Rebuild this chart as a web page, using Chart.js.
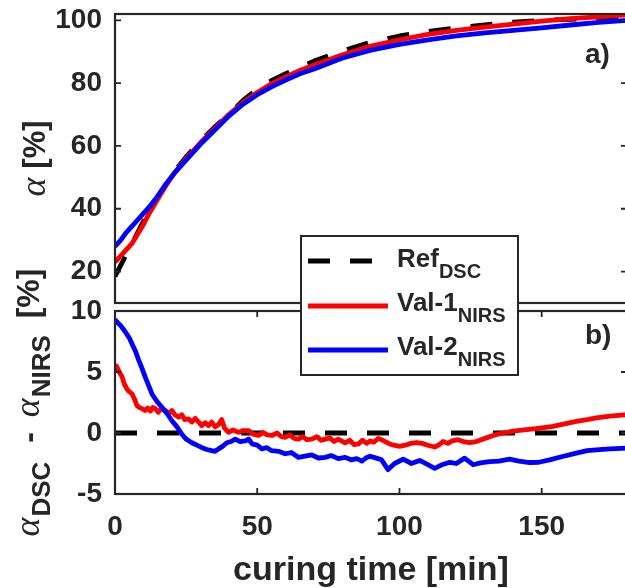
<!DOCTYPE html>
<html>
<head>
<meta charset="utf-8">
<script src="https://cdn.jsdelivr.net/npm/chart.js@4.4.1/dist/chart.umd.min.js"></script>
<style>
html,body{margin:0;padding:0;background:#fff;overflow:hidden;width:625px;height:588px}
#wrap{position:relative;width:625px;height:588px;overflow:hidden;background:#fff}
#wrap canvas{position:absolute;left:0;top:0}
</style>
</head>
<body>
<div id="wrap">
<canvas id="topChart" width="640" height="588"></canvas>
<canvas id="botChart" width="640" height="588"></canvas>
</div>
<script>
// ---------- DATA ----------
const xTicks = [0, 50, 100, 150];
const yTopTicks = [20, 40, 60, 80, 100];
const yBotTicks = [-5, 0, 5, 10];

const seriesNames = ['Ref', 'Val-1', 'Val-2'];
const seriesSubs = ['DSC', 'NIRS', 'NIRS'];

// panel a) : degree of cure alpha [%]
const tTop   = [0, 2, 4, 6, 8, 10, 12, 15, 18, 21, 25, 30, 35, 40, 45, 50, 55, 60, 65, 70, 80, 90, 100, 110, 120, 130, 140, 150, 160, 170, 180];
const refTop = [18.5, 22, 25.5, 29, 32.5, 36, 39, 43.5, 48, 52, 56.5, 61.5, 66, 70, 74.5, 78, 80.8, 83, 85, 87, 90.3, 93, 95, 96.4, 97.6, 98.5, 99.4, 100, 100.3, 100.6, 100.9];
const val1Top = [23, 25, 27, 29, 32, 35, 38.5, 43, 47.5, 51.5, 56, 61, 65.5, 70, 73.8, 77, 79.8, 82, 84, 85.8, 89, 91.8, 93.8, 95.5, 96.8, 97.8, 98.8, 99.7, 100.5, 101.1, 101.7];
const val2Top = [28, 30, 32.5, 34.5, 36.5, 38.5, 40.5, 44, 48, 51.5, 55.5, 60.5, 65, 69.5, 73.3, 76.3, 78.8, 81, 83, 84.5, 88, 90.5, 92.3, 93.8, 95, 96, 96.8, 97.6, 98.5, 99.3, 100];

// panel b) : alpha_DSC - alpha_NIRS [%]
const tRefDiff = [0, 180];
const refDiff = [0, 0];
const tDiff1 = [0, 0.7, 1.5, 2.5, 3.3, 4.2, 5, 6, 7, 7.7, 8.5, 9.5, 10.6, 11.5, 12.5, 13.3, 14.2, 15.2, 16.3, 17.7, 19, 20, 21, 22.4, 23.5, 24.5, 25.9, 27, 28.2, 29.4, 30.5, 31.8, 32.9, 34, 35.2, 36.4, 37.5, 38.5, 39.9, 41.5, 43.4, 45, 47, 48.5, 50.5, 52, 53.5, 55.1, 57, 58.5, 59.8, 61.5, 63, 64.5, 66, 67.5, 69.2, 71, 72.5, 73.9, 75.5, 77, 78.5, 80.9, 82.5, 84, 85.6, 87, 88.5, 89.7, 91, 92.5, 93.7, 95, 96.6, 98, 100.1, 102, 104, 106, 108, 110, 112.4, 114, 115.3, 117, 118.5, 120.6, 122.5, 124.7, 127, 130.6, 133, 136.4, 140, 144.6, 148, 154, 158, 162.2, 166, 169.2, 174, 180];
const diff1 = [5.6, 5.4, 5.0, 4.6, 4.0, 3.6, 3.4, 3.2, 2.7, 2.25, 2.1, 2.0, 1.85, 2.05, 1.8, 2.1, 2.0, 1.7, 2.0, 1.85, 1.6, 1.85, 1.5, 1.3, 1.5, 1.1, 1.15, 0.9, 1.2, 0.9, 0.6, 0.85, 0.6, 0.9, 0.5, 0.7, 1.1, 0.4, 0.05, 0.25, 0.05, 0.2, 0.2, -0.1, -0.2, 0.05, -0.15, -0.2, 0.0, -0.3, -0.35, -0.15, -0.45, -0.5, -0.3, -0.55, -0.5, -0.3, -0.6, -0.5, -0.4, -0.7, -0.5, -0.8, -0.6, -0.95, -0.9, -0.6, -0.85, -0.65, -0.75, -0.45, -0.55, -0.7, -0.9, -1.0, -1.1, -1.0, -0.85, -0.78, -0.85, -1.0, -1.15, -0.95, -0.7, -0.85, -0.65, -0.55, -0.7, -0.78, -0.7, -0.4, -0.2, 0.0, 0.15, 0.27, 0.35, 0.55, 0.75, 0.96, 1.1, 1.24, 1.38, 1.5];
const tDiff2 = [0, 0.7, 2, 3.6, 5, 6, 7.2, 8.3, 9.5, 10.6, 11.8, 13, 14.7, 16.5, 18.3, 20, 21.8, 23.5, 25, 27, 28.8, 30.6, 32.3, 34, 35.2, 36.4, 37.8, 39.3, 40.8, 42.3, 44, 45.8, 47, 48.2, 50, 51.6, 53.3, 55.1, 57.5, 59.8, 62, 64.5, 66.8, 69.2, 71.5, 73.9, 76, 78.5, 80.9, 83, 85, 86.8, 88.5, 89.7, 91.9, 93.7, 96, 98.3, 101.3, 104.2, 107.1, 110, 112.4, 115, 117.7, 120, 122.9, 125.9, 128.5, 131.7, 135, 138.7, 142, 145.8, 149, 152.8, 157, 162.2, 166, 169.2, 174, 180];
const diff2 = [9.3, 9.1, 8.8, 8.3, 7.8, 7.3, 6.7, 6.0, 5.3, 4.6, 3.9, 3.2, 2.6, 2.1, 1.6, 1.0, 0.5, -0.1, -0.5, -0.8, -1.0, -1.2, -1.35, -1.45, -1.5, -1.3, -1.1, -0.8, -0.7, -0.5, -0.7, -0.65, -0.5, -0.9, -1.0, -1.3, -1.2, -1.45, -1.5, -1.7, -1.6, -2.0, -1.9, -1.8, -2.05, -2.0, -1.85, -2.1, -2.0, -2.2, -2.1, -2.3, -2.0, -1.9, -2.06, -2.2, -3.0, -2.5, -2.15, -2.5, -2.25, -2.6, -2.9, -2.6, -2.4, -2.5, -2.06, -2.6, -2.45, -2.34, -2.3, -2.15, -2.3, -2.42, -2.4, -2.2, -1.95, -1.65, -1.45, -1.38, -1.3, -1.24];

// ---------- HELPERS ----------
const pts = (xs, ys) => xs.map((x, i) => ({x: x, y: ys[i]}));
const TXT = '#262626';
const SANS = '"Liberation Sans", Arial, sans-serif';
const SERIF = '"Liberation Serif", "Times New Roman", serif';

function drawRich(ctx, segs, baseX, cy) {
  ctx.save();
  ctx.translate(baseX, cy);
  ctx.rotate(-Math.PI / 2);
  let total = 0;
  segs.forEach(s => { ctx.font = s.font; s.w = ctx.measureText(s.text).width; total += s.w + (s.gap || 0); });
  let x = -total / 2;
  ctx.textAlign = 'left';
  ctx.textBaseline = 'alphabetic';
  ctx.fillStyle = TXT;
  segs.forEach(s => { ctx.font = s.font; ctx.fillText(s.text, x, s.dy || 0); x += s.w + (s.gap || 0); });
  ctx.restore();
}

function framePlugin(opts) {
  return {
    id: 'frame',
    afterDatasetsDraw(chart) {
      const ctx = chart.ctx, a = chart.chartArea;
      const ys = chart.scales.y, xs = chart.scales.x;
      ctx.save();
      ctx.strokeStyle = TXT;
      ctx.lineWidth = 2.2;
      ctx.strokeRect(a.left, a.top, a.right - a.left, a.bottom - a.top);
      ctx.lineWidth = 1.8;
      ctx.beginPath();
      ys.ticks.forEach(t => {
        const p = ys.getPixelForValue(t.value);
        ctx.moveTo(a.left, p); ctx.lineTo(a.left + 6, p);
        ctx.moveTo(a.right, p); ctx.lineTo(a.right - 6, p);
      });
      if (opts.xTicks) {
        xs.ticks.forEach(t => {
          const p = xs.getPixelForValue(t.value);
          ctx.moveTo(p, a.bottom); ctx.lineTo(p, a.bottom - 6);
          ctx.moveTo(p, a.top); ctx.lineTo(p, a.top + 6);
        });
      }
      ctx.stroke();
      // panel letter
      ctx.fillStyle = TXT;
      ctx.font = 'bold 28px ' + SANS;
      ctx.textAlign = 'left';
      ctx.textBaseline = 'alphabetic';
      ctx.fillText(opts.letter, opts.letterX, opts.letterY);
      ctx.restore();
      drawRich(ctx, opts.title, opts.titleX, (a.top + a.bottom) / 2);
    }
  };
}

const legendPlugin = {
  id: 'richLegend',
  afterDraw(chart) {
    const ctx = chart.ctx;
    const box = {l: 301, t: 236, r: 518, b: 375};
    const rowsY = [261, 306, 350];
    const rowsBase = [267, 311, 355];
    ctx.save();
    ctx.fillStyle = '#ffffff';
    ctx.fillRect(box.l, box.t, box.r - box.l, box.b - box.t);
    ctx.strokeStyle = TXT;
    ctx.lineWidth = 2;
    ctx.strokeRect(box.l, box.t, box.r - box.l, box.b - box.t);
    chart.data.datasets.forEach((ds, i) => {
      ctx.beginPath();
      ctx.strokeStyle = ds.borderColor;
      ctx.lineWidth = ds.borderWidth;
      ctx.setLineDash(ds.borderDash || []);
      ctx.moveTo(308, rowsY[i]);
      ctx.lineTo(388, rowsY[i]);
      ctx.stroke();
      ctx.setLineDash([]);
      ctx.fillStyle = TXT;
      ctx.textAlign = 'left';
      ctx.textBaseline = 'alphabetic';
      ctx.font = 'bold 26px ' + SANS;
      ctx.fillText(seriesNames[i], 397, rowsBase[i]);
      const w = ctx.measureText(seriesNames[i]).width;
      ctx.font = 'bold 20px ' + SANS;
      ctx.fillText(seriesSubs[i], 397 + w, rowsBase[i] + 11);
    });
    ctx.restore();
  }
};

const tickFont = {family: SANS, size: 28, weight: 'bold'};
const noPad = s => { s.paddingTop = 0; s.paddingBottom = 0; };
const commonX = {
  type: 'linear', min: 0, max: 180,
  afterBuildTicks: s => { s.ticks = xTicks.map(v => ({value: v})); },
  grid: {display: false, drawTicks: false},
  border: {display: false}
};

// ---------- TOP CHART ----------
new Chart(document.getElementById('topChart'), {
  type: 'line',
  data: {
    datasets: [
      {label: 'Ref_DSC', data: pts(tTop, refTop), borderColor: '#000000', borderWidth: 4.8, borderDash: [22, 20], order: 3},
      {label: 'Val-1_NIRS', data: pts(tTop, val1Top), borderColor: '#ff0000', borderWidth: 4.8, order: 2},
      {label: 'Val-2_NIRS', data: pts(tTop, val2Top), borderColor: '#0000ff', borderWidth: 4.8, order: 1}
    ]
  },
  options: {
    responsive: false, animation: false, devicePixelRatio: 1,
    layout: {autoPadding: false, padding: {left: 0, top: 14, right: 13, bottom: 285}},
    elements: {point: {radius: 0}, line: {tension: 0, borderJoinStyle: 'round', fill: false}},
    plugins: {legend: {display: false}, tooltip: {enabled: false}},
    scales: {
      x: Object.assign({}, commonX, {display: false}),
      y: {
        type: 'linear', min: 10, max: 102,
        afterBuildTicks: s => { s.ticks = yTopTicks.map(v => ({value: v})); },
        afterFit: s => { s.width = 115; noPad(s); },
        grid: {display: false, drawTicks: false},
        border: {display: false},
        ticks: {font: tickFont, color: TXT, padding: 13}
      }
    }
  },
  plugins: [framePlugin({
    xTicks: false, letter: 'a)', letterX: 585, letterY: 63, titleX: 45,
    title: [
      {text: 'α', font: 'italic 36px ' + SERIF, gap: 9},
      {text: '[%]', font: 'bold 31px ' + SANS}
    ]
  })]
});

// ---------- BOTTOM CHART ----------
new Chart(document.getElementById('botChart'), {
  type: 'line',
  data: {
    datasets: [
      {label: 'Ref_DSC', data: pts(tRefDiff, refDiff), borderColor: '#000000', borderWidth: 4.8, borderDash: [22, 20], order: 3},
      {label: 'Val-1_NIRS', data: pts(tDiff1, diff1), borderColor: '#ff0000', borderWidth: 4.8, order: 2},
      {label: 'Val-2_NIRS', data: pts(tDiff2, diff2), borderColor: '#0000ff', borderWidth: 4.8, order: 1}
    ]
  },
  options: {
    responsive: false, animation: false, devicePixelRatio: 1,
    layout: {autoPadding: false, padding: {left: 0, top: 311, right: 13, bottom: 0}},
    elements: {point: {radius: 0}, line: {tension: 0, borderJoinStyle: 'round', fill: false}},
    plugins: {legend: {display: false}, tooltip: {enabled: false}},
    scales: {
      x: Object.assign({}, commonX, {
        afterFit: s => { s.height = 94; },
        ticks: {font: tickFont, color: TXT, padding: 16, maxRotation: 0, autoSkip: false},
        title: {display: true, text: 'curing time [min]', color: TXT,
                font: {family: SANS, size: 34, weight: 'bold', lineHeight: 1},
                padding: {top: 0, bottom: 0}}
      }),
      y: {
        type: 'linear', min: -5, max: 10,
        afterBuildTicks: s => { s.ticks = yBotTicks.map(v => ({value: v})); },
        afterFit: s => { s.width = 115; noPad(s); },
        grid: {display: false, drawTicks: false},
        border: {display: false},
        ticks: {font: tickFont, color: TXT, padding: 13}
      }
    }
  },
  plugins: [framePlugin({
    xTicks: true, letter: 'b)', letterX: 585, letterY: 344, titleX: 39,
    title: [
      {text: 'α', font: 'italic 36px ' + SERIF, gap: 1},
      {text: 'DSC', font: 'bold 26px ' + SANS, dy: 11, gap: 10},
      {text: ' - ', font: 'bold 32px ' + SANS, gap: 6},
      {text: 'α', font: 'italic 36px ' + SERIF, gap: 1},
      {text: 'NIRS', font: 'bold 26px ' + SANS, dy: 11, gap: 8},
      {text: ' [%]', font: 'bold 32px ' + SANS}
    ]
  }), legendPlugin]
});
</script>
</body>
</html>
